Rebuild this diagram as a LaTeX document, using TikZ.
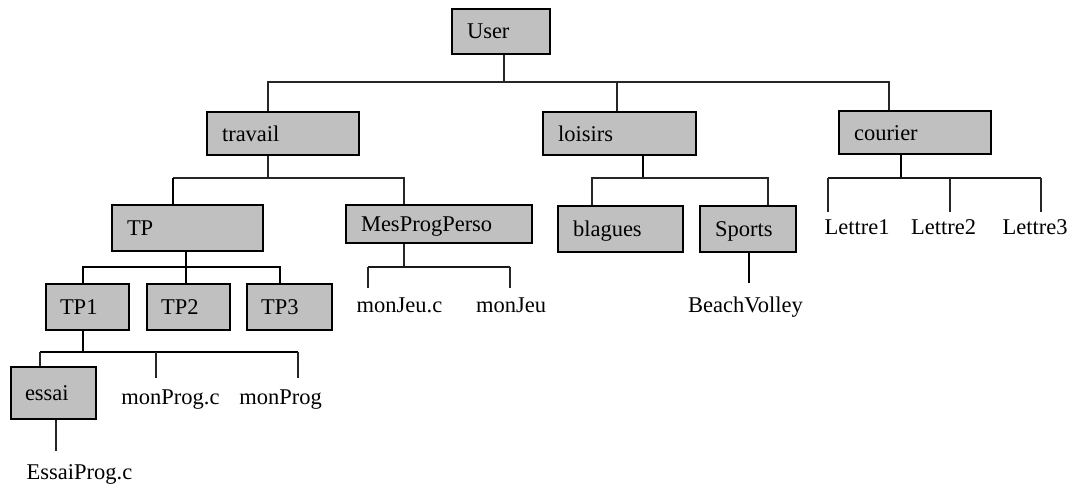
\documentclass[tikz,border=0pt]{standalone}
\usepackage{fontspec}
\setmainfont{Liberation Serif}
\begin{document}
\begin{tikzpicture}[x=1pt,y=-1pt,
  dirbox/.style={draw=black, line width=1.8pt, fill=boxgray, rectangle,
    inner xsep=15pt, inner ysep=0pt, align=left,
    text height=15pt, text depth=0pt,
    font=\fontsize{22.5}{27}\selectfont},
  leaf/.style={inner xsep=0pt, inner ysep=#1, anchor=base,
    text height=15pt, text depth=4pt,
    font=\fontsize{22.5}{27}\selectfont},
  leaf/.default=8pt,
  thinline/.style={line width=1.1pt, draw=black!85},
  midline/.style={line width=1.6pt, draw=black!90},
  thickline/.style={line width=2.3pt, draw=black}]
\definecolor{boxgray}{RGB}{192,192,192}
\useasboundingbox (0,0) rectangle (1070,487);

% directories
\node[dirbox, minimum width=98pt,  minimum height=45pt, text width=68pt]  (User)    at (501,31.5)  {User};
\node[dirbox, minimum width=152pt, minimum height=43pt, text width=122pt] (travail) at (283,133.5) {travail};
\node[dirbox, minimum width=153pt, minimum height=43pt, text width=123pt] (loisirs) at (619.5,133.5) {loisirs};
\node[dirbox, minimum width=152pt, minimum height=43pt, text width=122pt] (courier) at (915,132.5) {courier};
\node[dirbox, minimum width=151pt, minimum height=46pt, text width=121pt] (TP)      at (187.5,228) {TP};
\node[dirbox, minimum width=186pt, minimum height=38pt, text width=156pt] (MPP)     at (439,224)   {MesProgPerso};
\node[dirbox, minimum width=125pt, minimum height=46pt, text width=95pt]  (blagues) at (620.5,229) {blagues};
\node[dirbox, minimum width=96pt,  minimum height=46pt, text width=66pt]  (Sports)  at (748,229)   {Sports};
\node[dirbox, minimum width=83pt,  minimum height=46pt, text width=55pt, inner xsep=14pt] (TP1) at (87.5,307)  {TP1};
\node[dirbox, minimum width=83pt,  minimum height=46pt, text width=55pt, inner xsep=14pt] (TP2) at (188.5,307) {TP2};
\node[dirbox, minimum width=85pt,  minimum height=46pt, text width=57pt, inner xsep=14pt] (TP3) at (289.5,307) {TP3};
\node[dirbox, minimum width=85pt,  minimum height=52pt, text width=57pt, inner xsep=14pt] (essai) at (53.5,393) {essai};

% files
\node[leaf=11pt] (monProgc)  at (170.5,404) {monProg.c};
\node[leaf=11pt] (monProg)   at (280.5,404) {monProg};
\node[leaf=13pt] (EssaiProg) at (79.5,479)  {EssaiProg.c};
\node[leaf=9pt]  (monJeuc)   at (399.5,312) {monJeu.c};
\node[leaf=9pt]  (monJeu)    at (511,312)   {monJeu};
\node[leaf=14pt] (Beach)     at (745.5,312) {BeachVolley};
\node[leaf=7pt]  (Lettre1)   at (857,234)   {Lettre1};
\node[leaf=7pt]  (Lettre2)   at (943.5,234) {Lettre2};
\node[leaf=7pt]  (Lettre3)   at (1035,234)  {Lettre3};

% junction points on the horizontal bars
\coordinate (uDrop) at (504,82);
\coordinate (uL)    at (268,82);
\coordinate (uM)    at (617,82);
\coordinate (uR)    at (889,82);

\coordinate (tDrop) at (268,178);
\coordinate (tL)    at (173,178);
\coordinate (tR)    at (404,178);

\coordinate (pDrop) at (186,267);
\coordinate (pL)    at (83,267);
\coordinate (pR)    at (280,267);

\coordinate (aDrop) at (83,352);
\coordinate (aL)    at (40,352);
\coordinate (aM)    at (156,352);
\coordinate (aR)    at (298,352);

\coordinate (eDrop) at (56,419);

\coordinate (mDrop) at (404,267);
\coordinate (mL)    at (368,267);
\coordinate (mR)    at (510,267);

\coordinate (lDrop) at (643,178);
\coordinate (lL)    at (592,178);
\coordinate (lR)    at (768,178);

\coordinate (sDrop) at (749,252);

\coordinate (cDrop) at (901,178);
\coordinate (cL)    at (828,178);
\coordinate (cM)    at (950,178);
\coordinate (cR)    at (1041,178);

% User
\draw[thinline] (User.south -| uDrop) -- (uDrop);
\draw[thinline] (travail.north -| uL) -- (uL) -- (uR) -- (courier.north -| uR);
\draw[thinline] (uM) -- (loisirs.north -| uM);

% travail
\draw[thinline] (travail.south -| tDrop) -- (tDrop);
\draw[thinline] (tL) -- (tR) -- (MPP.north -| tR);
\draw[thickline] (tL) -- (TP.north -| tL);

% TP
\draw[thickline] (TP.south -| pDrop) -- (TP2.north -| pDrop);
\draw[thickline] (TP1.north -| pL) -- (pL) -- (pR) -- (TP3.north -| pR);

% TP1
\draw[thickline] (TP1.south -| aDrop) -- (aDrop);
\draw[thickline] (aL) -- (aR);
\draw[thinline] (aL) -- (essai.north -| aL);
\draw[thinline] (aM) -- (monProgc.north -| aM);
\draw[thinline] (aR) -- (monProg.north -| aR);

% essai
\draw[thinline] (essai.south -| eDrop) -- (EssaiProg.north -| eDrop);

% MesProgPerso
\draw[thinline] (MPP.south -| mDrop) -- (mDrop);
\draw[midline] (mL) -- (mR);
\draw[thinline] (mL) -- (monJeuc.north -| mL);
\draw[thinline] (mR) -- (monJeu.north -| mR);

% loisirs
\draw[thickline] (loisirs.south -| lDrop) -- (lDrop);
\draw[thinline] (blagues.north -| lL) -- (lL) -- (lR) -- (Sports.north -| lR);

% Sports
\draw[thickline] (Sports.south -| sDrop) -- (Beach.north -| sDrop);

% courier
\draw[thickline] (courier.south -| cDrop) -- (cDrop);
\draw[midline] (cL) -- (cR);
\draw[thinline] (cL) -- (Lettre1.north -| cL);
\draw[thinline] (cM) -- (Lettre2.north -| cM);
\draw[thinline] (cR) -- (Lettre3.north -| cR);
\end{tikzpicture}
\end{document}
